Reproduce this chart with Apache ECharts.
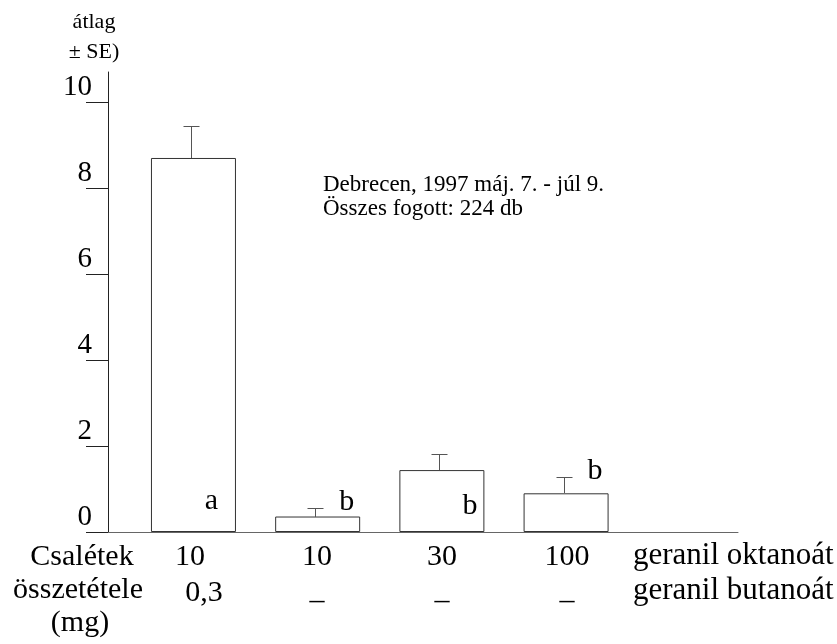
<!DOCTYPE html>
<html>
<head>
<meta charset="utf-8">
<script src="https://cdn.jsdelivr.net/npm/echarts@6/dist/echarts.min.js"></script>
<style>html,body{margin:0;padding:0;background:#fff}#c{width:837px;height:644px}</style>
</head>
<body>
<div id="c"></div>
<script>
// ---- data ----
const oktanoat = ['10', '10', '30', '100'];      // geranil oktanoát (mg)
const butanoat = ['0,3', '–', '–', '–'];        // geranil butanoát (mg)
const means = [8.7, 0.36, 1.44, 0.9];            // átlag
const upperSE = [9.44, 0.55, 1.81, 1.27];        // átlag + SE
const letters = ['a', 'b', 'b', 'b'];
const yTicks = [0, 2, 4, 6, 8, 10];

const FF = '"Liberation Serif","Times New Roman",serif';
const chart = echarts.init(document.getElementById('c'), null, {renderer: 'canvas'});

const letterOffsets = [[18, -16], [29, -15], [28, -11], [29, -46]];

const barData = means.map((v, i) => ({
  value: [i + 1, v],
  label: {
    show: true,
    position: 'insideBottom',
    distance: 0,
    offset: letterOffsets[i],
    formatter: () => letters[i],
    fontSize: 30, fontFamily: FF, color: '#000'
  }
}));
const errData = means.map((v, i) => [i + 1, v, upperSE[i]]);

function T(text, x, y, size, align, extra) {
  return Object.assign({
    type: 'text', x: x, y: y, silent: true,
    style: {text: text, fontSize: size, fontFamily: FF, fill: '#000',
            align: align || 'center', verticalAlign: 'middle'}
  }, extra || {});
}

const rowX = [190, 317, 442, 567];
const graphics = [
  T('átlag', 94, 22, 22),
  T('± SE)', 94, 52, 22),
  T('Debrecen, 1997 máj. 7. - júl 9.', 323, 185, 23, 'left'),
  T('Összes fogott: 224 db', 323, 209, 23, 'left'),
  T('Csalétek', 82, 557, 30),
  T('összetétele', 78, 590, 30),
  T('(mg)', 80, 623, 30),
  T('geranil oktanoát', 633, 556, 31, 'left'),
  T('geranil butanoát', 633, 591, 31, 'left')
];
oktanoat.forEach((s, i) => graphics.push(T(s, rowX[i], 557, 30)));
butanoat.forEach((s, i) => graphics.push(T(s, rowX[i] + (i === 0 ? 14 : 0), i === 0 ? 593 : 601, 30)));

chart.setOption({
  animation: false,
  backgroundColor: '#fff',
  grid: {left: 108, top: 72, width: 630, height: 460, containLabel: false},
  xAxis: {
    type: 'value', min: 0.312, max: 5.384,
    axisLine: {show: true, onZero: false, lineStyle: {color: '#666', width: 1}},
    axisTick: {show: false}, axisLabel: {show: false}, splitLine: {show: false}
  },
  yAxis: {
    type: 'value', min: 0, max: 10.7, interval: 2,
    axisLine: {show: true, onZero: false, lineStyle: {color: '#222', width: 1}},
    axisTick: {show: true, length: 22, customValues: yTicks, lineStyle: {color: '#222', width: 1}},
    axisLabel: {show: true, customValues: yTicks, fontSize: 29, fontFamily: FF, color: '#000',
                margin: 16, align: 'right', verticalAlign: 'bottom'},
    splitLine: {show: false}
  },
  series: [
    {
      type: 'bar', data: barData, barWidth: 85,
      itemStyle: {color: '#fff', borderColor: '#333', borderWidth: 1}
    },
    {
      type: 'custom', data: errData, z: 3,
      renderItem: function (params, api) {
        const x = api.value(0);
        const top = api.coord([x, api.value(1)]);
        const hi = api.coord([x, api.value(2)]);
        const sx = Math.round(top[0] - 2.5) + 0.5;
        const hy = Math.round(hi[1]) + 0.5;
        const ty = Math.round(top[1]);
        const st = {stroke: '#555', lineWidth: 1};
        return {type: 'group', children: [
          {type: 'line', shape: {x1: sx, y1: ty, x2: sx, y2: hy}, style: st},
          {type: 'line', shape: {x1: sx - 8, y1: hy, x2: sx + 8, y2: hy}, style: st}
        ]};
      }
    }
  ],
  graphic: graphics
});
</script>
</body>
</html>
